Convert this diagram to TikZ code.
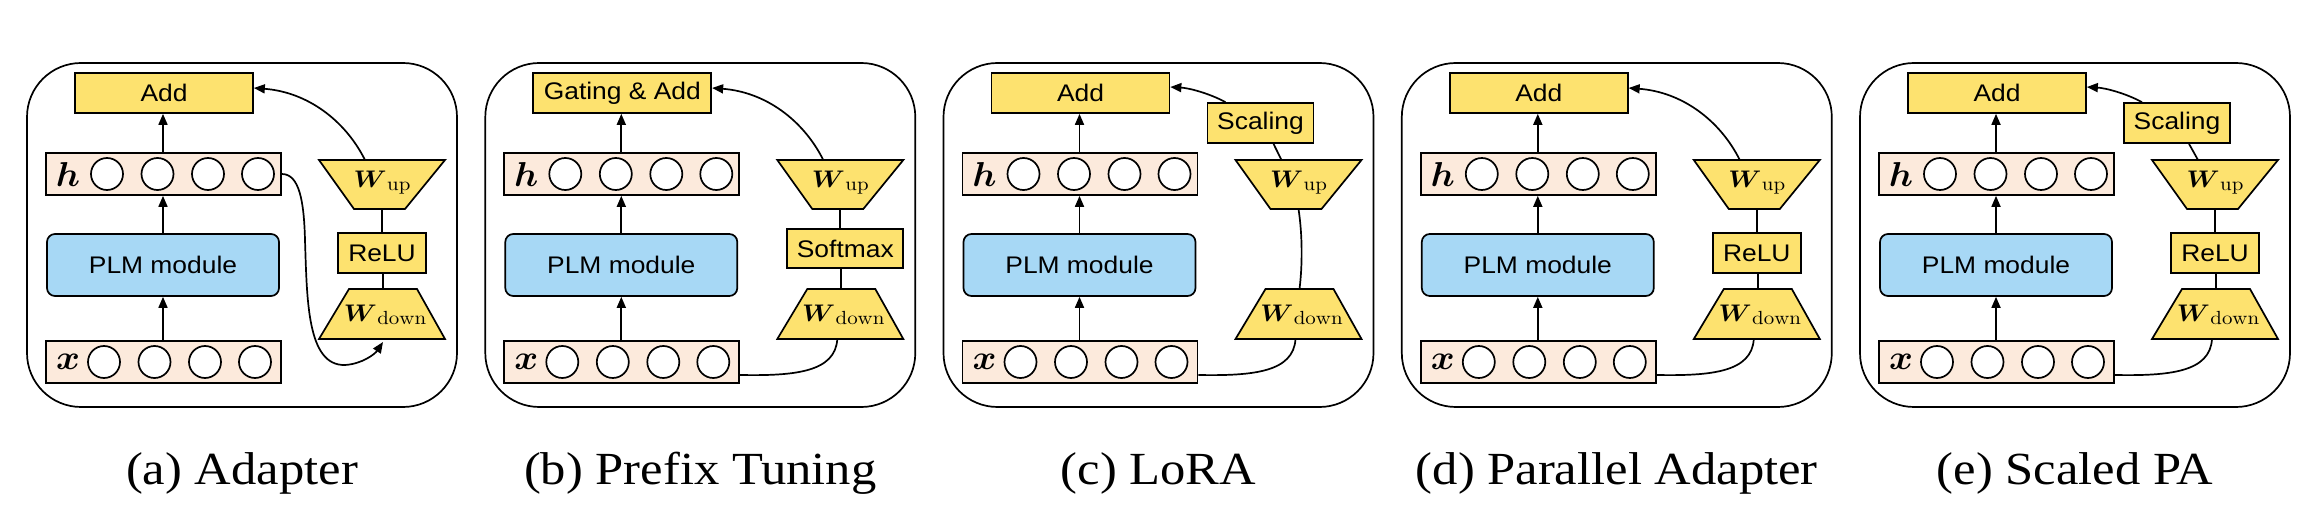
\documentclass[tikz,border=0pt]{standalone}
\usepackage{amsmath}
\usepackage{graphicx}
\usepackage{fontspec}
\newfontfamily\sansf[FakeStretch=1.1]{Liberation Sans}
\newfontfamily\capf[FakeStretch=1.1]{Liberation Serif}
\usetikzlibrary{arrows.meta}
\definecolor{yel}{RGB}{253,226,111}
\definecolor{peach}{RGB}{252,234,220}
\definecolor{plmblue}{RGB}{167,216,245}
\tikzset{
 lw/.style={line width=0.85pt},
 panelframe/.style={draw,lw,rounded corners=27pt,minimum width=215pt,minimum height=172pt,inner sep=0},
 ybox/.style={draw,lw,fill=yel,inner sep=0,font=\sansf\fontsize{12pt}{14pt}\selectfont},
 rowbox/.style={draw,lw,fill=peach,inner sep=0,minimum width=117.5pt,minimum height=21pt},
 plmbox/.style={draw,lw,fill=plmblue,rounded corners=4pt,inner sep=0,minimum width=116pt,minimum height=31pt,font=\sansf\fontsize{12pt}{14pt}\selectfont},
 unitcirc/.style={draw,lw,fill=white,circle,inner sep=0,minimum size=16pt},
 vlab/.style={inner sep=0,font=\fontsize{17.28pt}{20pt}\selectfont},
 trap/.style={draw,lw,fill=yel,line join=miter},
 wlab/.style={inner sep=0},
 captext/.style={inner sep=0,anchor=base,font=\capf\fontsize{23pt}{26pt}\selectfont},
 arr/.style={lw,-{Triangle[length=5.5pt,width=4.5pt]}},
 con/.style={lw},
}
\newcommand\wlabel[1]{\scalebox{1.1}[1]{\fontsize{12pt}{14pt}\selectfont$\boldsymbol{W}$\kern0.2pt\raisebox{-1.5pt}{\fontsize{9.5pt}{11pt}\selectfont$\mathrm{#1}$}}}
\newcommand\mkpanel[4]{%
\begin{scope}[shift={(#2,0)}]
 \node[panelframe] (#1-frame) at (215,235) {};
 \node[ybox,minimum width=89pt,minimum height=20pt] (#1-add) at (137,93) {#3};
 \node[rowbox] (#1-h) at (136.5,174) {};
 \node[vlab] (#1-hl) at (41,175) {\scalebox{1.05}[1]{$\boldsymbol{h}$}};
 \node[unitcirc] (#1-h1) at (80,174) {};
 \node[unitcirc] (#1-h2) at (130.5,174) {};
 \node[unitcirc] (#1-h3) at (181,174) {};
 \node[unitcirc] (#1-h4) at (231,174) {};
 \node[plmbox] (#1-plm) at (136,265) {PLM module};
 \node[rowbox] (#1-x) at (136.5,362) {};
 \node[vlab] (#1-xl) at (41,362) {\scalebox{1.05}[1]{$\boldsymbol{x}$}};
 \node[unitcirc] (#1-x1) at (77,362) {};
 \node[unitcirc] (#1-x2) at (127.5,362) {};
 \node[unitcirc] (#1-x3) at (178,362) {};
 \node[unitcirc] (#1-x4) at (228,362) {};
 \draw[trap] (292,160)--(418,160)--(378,209)--(327,209)--cycle;
 \node[wlab] (#1-wup) at (355,183) {\wlabel{up}};
 \draw[trap] (322,289)--(390,289)--(418,339)--(292,339)--cycle;
 \node[wlab] (#1-wdn) at (358,315) {\wlabel{down}};
 \coordinate (#1-wupT) at (338,160);
 \coordinate (#1-wupB) at (355,209);
 \coordinate (#1-wdnT) at (356,289);
 \coordinate (#1-wdnB) at (352,339);
 \draw[arr] (#1-x.north -| #1-plm.south) -- (#1-plm.south);
 \draw[arr] (#1-plm.north) -- (#1-h.south -| #1-plm.north);
 \draw[arr] (#1-h.north -| #1-plm.north) -- (#1-add.south -| #1-plm.north);
 \node[captext] (#1-cap) at (215,484) {#4};
\end{scope}}
\begin{document}
\begin{tikzpicture}[x=0.5pt,y=-0.5pt]
\useasboundingbox (0,0) rectangle (2304,518);
% (a) Adapter
\mkpanel{a}{27}{Add}{(a) Adapter}
\begin{scope}[shift={(27,0)}]
 \node[ybox,minimum width=44pt,minimum height=20pt] (a-mid) at (355,253) {ReLU};
 \draw[con] (a-wupB) -- (a-mid.north -| a-wupB);
 \draw[con] (a-mid.south -| a-wdnT) -- (a-wdnT);
 \draw[arr] (a-wupT) .. controls (318,120) and (280,92) .. ([yshift=2.5pt]a-add.east);
 \draw[arr] (a-h.east) .. controls (272,174) and (277,200) .. (278,240) .. controls (280,300) and (280,366) .. (318,365) .. controls (335,364) and (348,354) .. (356,342);
\end{scope}
% (b) Prefix Tuning
\mkpanel{b}{485.3}{Gating \& Add}{(b) Prefix Tuning}
\begin{scope}[shift={(485.3,0)}]
 \node[ybox,minimum width=58pt,minimum height=19.5pt] (b-mid) at (360,248.5) {Softmax};
 \draw[con] (b-wupB) -- (b-mid.north -| b-wupB);
 \draw[con] (b-mid.south -| b-wdnT) -- (b-wdnT);
 \draw[arr] (b-wupT) .. controls (318,120) and (280,92) .. ([yshift=2.5pt]b-add.east);
 \draw[con] ([yshift=-6.5pt]b-x.east) .. controls (310,376) and (350,372) .. (b-wdnB);
\end{scope}
% (c) LoRA
\mkpanel{c}{943.5}{Add}{(c) LoRA}
\begin{scope}[shift={(943.5,0)}]
 \node[ybox,minimum width=53pt,minimum height=20pt] (c-sc) at (317,123) {Scaling};
 \draw[con] (c-wupB) .. controls (359,235) and (359,265) .. (c-wdnT);
 \draw[con] (c-wupT) -- ([xshift=6.5pt]c-sc.south);
 \draw[arr] ([xshift=-17.5pt]c-sc.north) .. controls (265,93) and (245,88) .. ([yshift=3pt]c-add.east);
 \draw[con] ([yshift=-6.5pt]c-x.east) .. controls (310,376) and (350,372) .. (c-wdnB);
\end{scope}
% (d) Parallel Adapter
\mkpanel{d}{1401.8}{Add}{(d) Parallel Adapter}
\begin{scope}[shift={(1401.8,0)}]
 \node[ybox,minimum width=44pt,minimum height=20pt] (d-mid) at (355,253) {ReLU};
 \draw[con] (d-wupB) -- (d-mid.north -| d-wupB);
 \draw[con] (d-mid.south -| d-wdnT) -- (d-wdnT);
 \draw[arr] (d-wupT) .. controls (318,120) and (280,92) .. ([yshift=2.5pt]d-add.east);
 \draw[con] ([yshift=-6.5pt]d-x.east) .. controls (310,376) and (350,372) .. (d-wdnB);
\end{scope}
% (e) Scaled PA
\mkpanel{e}{1860}{Add}{(e) Scaled PA}
\begin{scope}[shift={(1860,0)}]
 \node[ybox,minimum width=44pt,minimum height=20pt] (e-mid) at (355,253) {ReLU};
 \node[ybox,minimum width=53pt,minimum height=20pt] (e-sc) at (317,123) {Scaling};
 \draw[con] (e-wupB) -- (e-mid.north -| e-wupB);
 \draw[con] (e-mid.south -| e-wdnT) -- (e-wdnT);
 \draw[con] (e-wupT) -- ([xshift=6pt]e-sc.south);
 \draw[arr] ([xshift=-17.5pt]e-sc.north) .. controls (265,93) and (245,88) .. ([yshift=3pt]e-add.east);
 \draw[con] ([yshift=-6.5pt]e-x.east) .. controls (310,376) and (350,372) .. (e-wdnB);
\end{scope}
\end{tikzpicture}
\end{document}
